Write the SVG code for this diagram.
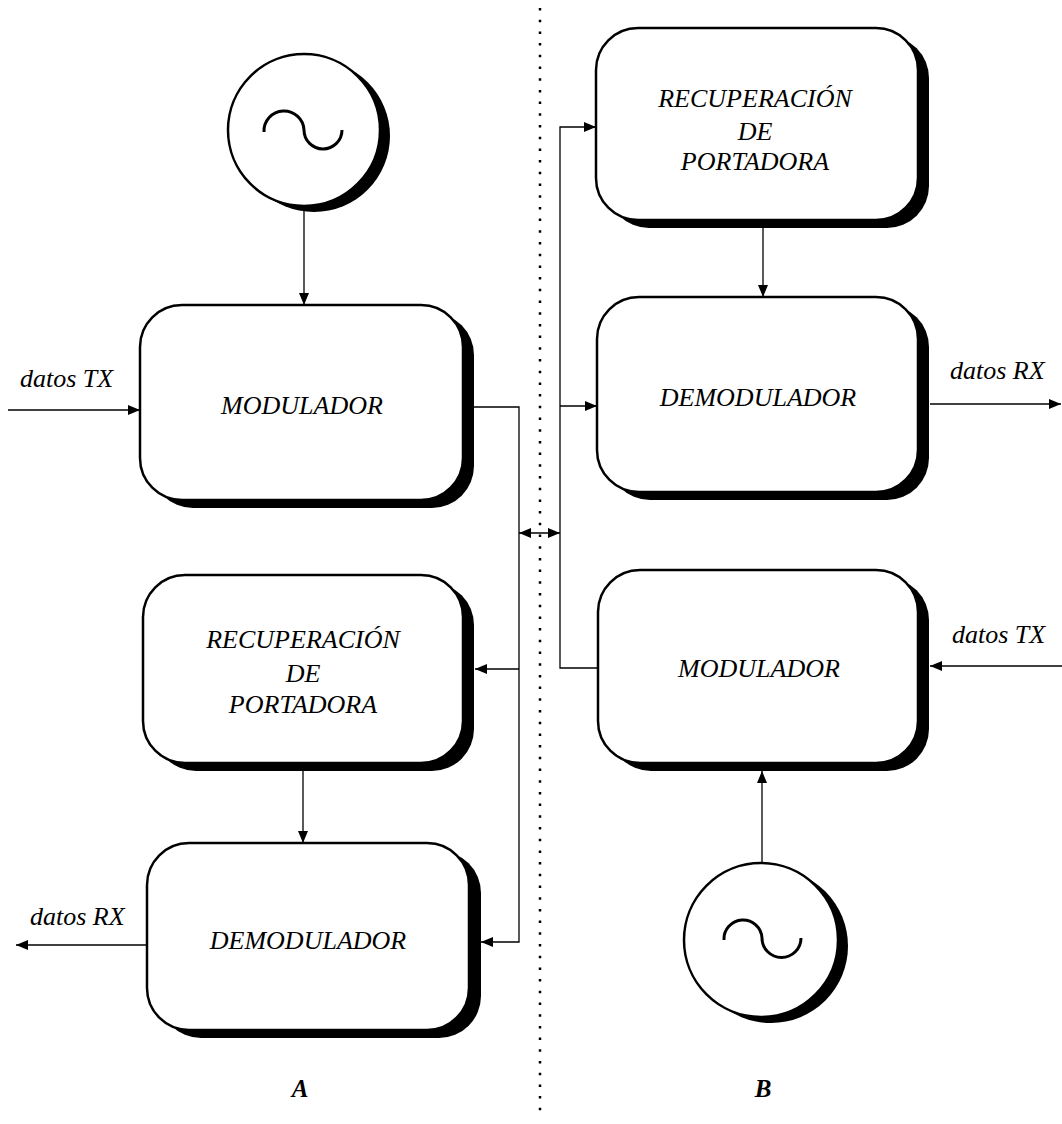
<svg xmlns="http://www.w3.org/2000/svg" width="1062" height="1124" viewBox="0 0 1062 1124">
<style>
.box{fill:#fff;stroke:#000;stroke-width:2.5}
.sh{fill:#000}
.lbl{font-family:"Liberation Serif","Times New Roman",serif;font-style:italic;font-size:26px;fill:#000}
.mid{text-anchor:middle}
.ln{fill:none;stroke:#000;stroke-width:1.3}
.sine{fill:none;stroke:#000;stroke-width:3}
.ab{font-family:"Liberation Serif","Times New Roman",serif;font-style:italic;font-weight:bold;font-size:25px;text-anchor:middle}
</style>
<defs>
<marker id="ar" markerUnits="userSpaceOnUse" markerWidth="12" markerHeight="10" viewBox="0 0 12 10" refX="12" refY="5" orient="auto-start-reverse">
<path d="M0,0 L12,5 L0,10 z" fill="#000"/>
</marker>
</defs>
<rect width="1062" height="1124" fill="#fff"/>
<line x1="540" y1="8" x2="540" y2="1115" stroke="#000" stroke-width="2.5" stroke-dasharray="2.5 9.2"/>

<g id="osc-A">
<circle cx="314" cy="136" r="76" class="sh"/>
<circle cx="304" cy="130" r="76" class="box"/>
<path class="sine" d="M264,132 A20,20 0 0 1 304,130 A19,19 0 0 0 342,130"/>
</g>
<g id="mod-A">
<rect x="151" y="313" width="323" height="195" rx="42" class="sh"/>
<rect x="140" y="305" width="323" height="195" rx="42" class="box"/>
<text x="302" y="414" class="lbl mid">MODULADOR</text>
</g>
<g id="rec-A">
<rect x="154" y="583" width="320" height="188" rx="42" class="sh"/>
<rect x="143" y="575" width="320" height="188" rx="42" class="box"/>
<text x="303" y="648" class="lbl mid">RECUPERACIÓN</text>
<text x="303" y="682" class="lbl mid">DE</text>
<text x="303" y="713" class="lbl mid">PORTADORA</text>
</g>
<g id="dem-A">
<rect x="159" y="851" width="322" height="187" rx="42" class="sh"/>
<rect x="147" y="843" width="322" height="187" rx="42" class="box"/>
<text x="308" y="949" class="lbl mid">DEMODULADOR</text>
</g>
<g id="rec-B">
<rect x="607" y="36" width="322" height="192" rx="42" class="sh"/>
<rect x="596" y="28" width="322" height="192" rx="42" class="box"/>
<text x="755" y="107" class="lbl mid">RECUPERACIÓN</text>
<text x="755" y="140" class="lbl mid">DE</text>
<text x="755" y="170" class="lbl mid">PORTADORA</text>
</g>
<g id="dem-B">
<rect x="608" y="305" width="321" height="195" rx="42" class="sh"/>
<rect x="597" y="297" width="321" height="195" rx="42" class="box"/>
<text x="758" y="406" class="lbl mid">DEMODULADOR</text>
</g>
<g id="mod-B">
<rect x="609" y="578" width="320" height="193" rx="42" class="sh"/>
<rect x="598" y="570" width="320" height="193" rx="42" class="box"/>
<text x="759" y="677" class="lbl mid">MODULADOR</text>
</g>
<g id="osc-B">
<circle cx="771" cy="946" r="77" class="sh"/>
<circle cx="761" cy="940" r="77" class="box"/>
<path class="sine" d="M724,940 A19,19 0 0 1 762,938 A19.5,19.5 0 0 0 801,938"/>
</g>

<g id="connectors">
<line class="ln" x1="304" y1="206" x2="304" y2="305" marker-end="url(#ar)"/>
<line class="ln" x1="8" y1="410" x2="140" y2="410" marker-end="url(#ar)"/>
<polyline class="ln" points="474,407 519,407 519,942 481,942" marker-end="url(#ar)"/>
<line class="ln" x1="519" y1="669" x2="475" y2="669" marker-end="url(#ar)"/>
<line class="ln" x1="303" y1="771" x2="303" y2="843" marker-end="url(#ar)"/>
<line class="ln" x1="147" y1="945" x2="16" y2="945" marker-end="url(#ar)"/>
<polyline class="ln" points="598,668 560,668 560,127 596,127" marker-end="url(#ar)"/>
<line class="ln" x1="560" y1="406" x2="597" y2="406" marker-end="url(#ar)"/>
<line class="ln" x1="519" y1="533" x2="560" y2="533" marker-start="url(#ar)" marker-end="url(#ar)"/>
<line class="ln" x1="763" y1="228" x2="763" y2="297" marker-end="url(#ar)"/>
<line class="ln" x1="930" y1="404" x2="1061" y2="404" marker-end="url(#ar)"/>
<line class="ln" x1="1062" y1="666" x2="930" y2="666" marker-end="url(#ar)"/>
<line class="ln" x1="762" y1="863" x2="762" y2="771" marker-end="url(#ar)"/>
</g>

<text x="20" y="387" class="lbl">datos TX</text>
<text x="30" y="925" class="lbl">datos RX</text>
<text x="950" y="379" class="lbl">datos RX</text>
<text x="952" y="643" class="lbl">datos TX</text>
<text x="300" y="1097" class="ab">A</text>
<text x="763" y="1097" class="ab">B</text>
</svg>
